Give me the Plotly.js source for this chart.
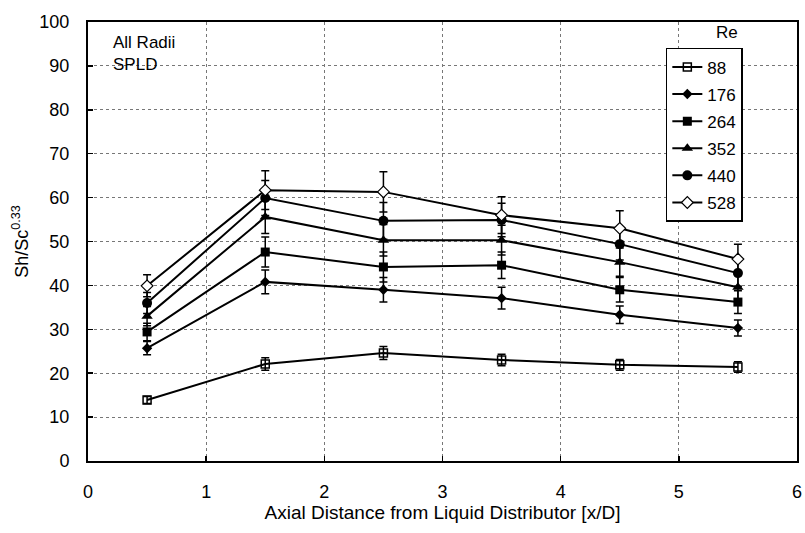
<!DOCTYPE html>
<html>
<head>
<meta charset="utf-8">
<script src="https://cdn.plot.ly/plotly-3.0.1.min.js"></script>
<style>html,body{margin:0;padding:0;background:#fff;}#chart{width:805px;height:533px;}</style>
</head>
<body>
<div id="chart"></div>
<script>
// x positions (x/D)
const xPos = [0.5, 1.5, 2.5, 3.5, 4.5, 5.5];
// Sh/Sc^0.33 values per Reynolds number
const re88  = [13.9, 22.1, 24.6, 23.0, 21.9, 21.4];
const re176 = [25.7, 40.8, 39.0, 37.1, 33.3, 30.3];
const re264 = [29.4, 47.6, 44.2, 44.6, 39.0, 36.2];
const re352 = [33.0, 55.6, 50.3, 50.3, 45.3, 39.6];
const re440 = [36.0, 59.9, 54.7, 54.9, 49.4, 42.8];
const re528 = [39.9, 61.7, 61.3, 56.0, 53.0, 46.0];
// error bar half-widths
const err88  = [0.8, 1.4, 1.5, 1.3, 1.2, 1.2];
const err176 = [1.5, 2.7, 2.8, 2.5, 2.0, 1.8];
const err264 = [2.0, 3.4, 3.4, 3.0, 2.8, 2.6];
const err352 = [2.2, 3.8, 3.6, 3.4, 3.2, 2.8];
const err440 = [2.4, 4.0, 4.2, 3.8, 3.6, 3.0];
const err528 = [2.5, 4.4, 4.6, 4.2, 4.0, 3.4];
const reLabels = ['88', '176', '264', '352', '440', '528'];

const series = [re88, re176, re264, re352, re440, re528];
const errs = [err88, err176, err264, err352, err440, err528];
const markers = [
  {symbol: 'square-open', size: 8, color: '#000', line: {width: 1.5, color: '#000'}},
  {symbol: 'diamond', size: 8, color: '#000'},
  {symbol: 'square', size: 9, color: '#000'},
  {symbol: 'triangle-up', size: 10, color: '#000'},
  {symbol: 'circle', size: 10, color: '#000'},
  {symbol: 'diamond', size: 9, color: '#fff', line: {width: 1.2, color: '#000'}}
];

const traces = series.map((ys, i) => ({
  x: xPos, y: ys, name: reLabels[i], type: 'scatter', mode: 'lines+markers',
  legendgroup: 'g' + i,
  line: {color: '#000', width: 2},
  marker: markers[i],
  error_y: {type: 'data', array: errs[i], visible: true, color: '#000', thickness: 1.5, width: 4}
}));

const gridStyle = {showgrid: true, gridcolor: '#777', griddash: 'dot', gridwidth: 1};
const FONT = 'Liberation Sans, Arial, sans-serif';
const layout = {
  width: 805, height: 533,
  margin: {l: 88, r: 8, t: 22, b: 72},
  paper_bgcolor: '#fff', plot_bgcolor: '#fff',
  font: {family: FONT, color: '#000', size: 17},
  showlegend: true,
  legend: {
    x: 0.815, y: 0.941, xanchor: 'left', yanchor: 'top',
    bgcolor: '#fff', bordercolor: '#000', borderwidth: 1.5,
    font: {size: 17, family: FONT},
    traceorder: 'grouped', tracegroupgap: 2, itemwidth: 30
  },
  xaxis: Object.assign({
    range: [0, 6], dtick: 1, tick0: 0,
    ticks: 'inside', ticklen: 5, tickcolor: '#000', tickwidth: 1.5,
    showline: true, linecolor: '#000', linewidth: 2, mirror: true,
    zeroline: false, ticklabelstandoff: 13, tickfont: {size: 18},
    title: {text: 'Axial Distance from Liquid Distributor [x/D]', font: {size: 19}, standoff: 0}
  }, gridStyle),
  yaxis: Object.assign({
    range: [0, 100], dtick: 10, tick0: 0,
    ticks: 'inside', ticklen: 5, tickcolor: '#000', tickwidth: 1.5,
    showline: true, linecolor: '#000', linewidth: 2, mirror: true,
    zeroline: false, ticklabelstandoff: 13, tickfont: {size: 18},
    title: {text: 'Sh/Sc<sup>0.33</sup>', font: {size: 18}, standoff: 6}
  }, gridStyle),
  annotations: [
    {text: 'All Radii<br>SPLD', xref: 'paper', yref: 'paper', x: 0.033, y: 0.98,
     xanchor: 'left', yanchor: 'top', showarrow: false, align: 'left', font: {size: 17}},
    {text: 'Re', xref: 'paper', yref: 'paper', x: 0.901, y: 0.975,
     xanchor: 'center', yanchor: 'middle', showarrow: false, font: {size: 17}}
  ]
};

Plotly.newPlot('chart', traces, layout, {displayModeBar: false, staticPlot: true});
</script>
</body>
</html>
